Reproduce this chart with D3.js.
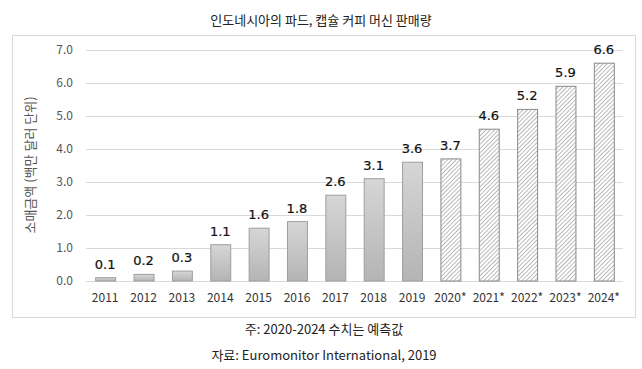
<html>
<head>
<script src="https://cdn.jsdelivr.net/npm/d3@7"></script>
<style>
    body { margin: 0; background: white; }
    text { font-family: "Noto Sans CJK KR", "Noto Sans", sans-serif; }
</style>
</head>
<body>
<svg id="container" width="642" height="369"></svg>
<script>
    let years = ["2011", "2012", "2013", "2014", "2015", "2016", "2017", "2018", "2019",
        "2020*", "2021*", "2022*", "2023*", "2024*"]
    let sales = [0.1, 0.2, 0.3, 1.1, 1.6, 1.8, 2.6, 3.1, 3.6, 3.7, 4.6, 5.2, 5.9, 6.6]
    let forecast = [false, false, false, false, false, false, false, false, false, true, true, true, true, true]
    let yTicks = [0, 1, 2, 3, 4, 5, 6, 7]

    let data = years.map((y, i) => ({ year: y, value: sales[i], forecast: forecast[i] }))

    let svg = d3.select("#container")
    let defs = svg.append("defs")

    let grad = defs.append("linearGradient").attr("id", "barGrad")
        .attr("x1", 0).attr("y1", 0).attr("x2", 0).attr("y2", 1)
    grad.append("stop").attr("offset", "0%").attr("stop-color", "#d6d6d6")
    grad.append("stop").attr("offset", "100%").attr("stop-color", "#b4b4b4")

    let hatch = defs.append("pattern").attr("id", "hatch")
        .attr("patternUnits", "userSpaceOnUse")
        .attr("width", 3).attr("height", 3)
        .attr("patternTransform", "rotate(45)")
    hatch.append("rect").attr("width", 3).attr("height", 3).attr("fill", "white")
    hatch.append("line").attr("x1", 0).attr("y1", 0).attr("x2", 0).attr("y2", 3)
        .attr("stroke", "#8a8a8a").attr("stroke-width", 1.2)

    // outer frame
    svg.append("rect").attr("x", 12.5).attr("y", 35.5).attr("width", 623).attr("height", 282)
        .attr("fill", "none").attr("stroke", "#d9d9d9")

    svg.append("text").attr("x", 321).attr("y", 25).attr("text-anchor", "middle")
        .attr("font-size", 13).attr("fill", "#222")
        .text("인도네시아의  파드, 캡슐 커피 머신 판매량")

    let x = d3.scaleBand().domain(years).range([86, 623]).paddingInner(0.48).paddingOuter(0.24)
    let y = d3.scaleLinear().domain([0, 7]).range([281, 50])

    let grid = svg.append("g")
    grid.selectAll("line").data(yTicks).enter().append("line")
        .attr("x1", 86).attr("x2", 623)
        .attr("y1", d => Math.round(y(d)) + 0.5).attr("y2", d => Math.round(y(d)) + 0.5)
        .attr("stroke", "#d9d9d9")

    let yAxis = svg.append("g").attr("transform", "translate(76,0)")
        .call(d3.axisLeft(y).tickValues(yTicks).tickFormat(d3.format(".1f")).tickSize(0))
    yAxis.select(".domain").remove()
    yAxis.selectAll("text").attr("font-size", 12).attr("fill", "#555")
        .attr("font-family", "'Noto Sans CJK KR', sans-serif")

    svg.append("text").attr("transform", "translate(35,165) rotate(-90)")
        .attr("text-anchor", "middle").attr("font-size", 13).attr("fill", "#555")
        .text("소매금액 (백만 달러 단위)")

    svg.selectAll(".bar").data(data).enter().append("rect")
        .attr("class", "bar")
        .attr("x", d => x(d.year) + 0.5)
        .attr("y", d => y(d.value))
        .attr("width", x.bandwidth())
        .attr("height", d => y(0) - y(d.value))
        .attr("fill", d => d.forecast ? "url(#hatch)" : "url(#barGrad)")
        .attr("stroke", d => d.forecast ? "#8a8a8a" : "#9e9e9e")
        .attr("stroke-width", 1)

    svg.selectAll(".val").data(data).enter().append("text")
        .attr("class", "val")
        .attr("x", d => x(d.year) + x.bandwidth() / 2)
        .attr("y", d => y(d.value) - 9)
        .attr("text-anchor", "middle").attr("font-size", 13)
        .attr("fill", "#111").attr("stroke", "#111").attr("stroke-width", 0.2)
        .style("font-family", "'DejaVu Sans', sans-serif")
        .text(d => d3.format(".1f")(d.value))

    let xAxis = svg.append("g").attr("transform", "translate(0,281)")
        .call(d3.axisBottom(x).tickSize(0).tickPadding(12))
    xAxis.select(".domain").remove()
    xAxis.selectAll("text").attr("font-size", 12).attr("fill", "#333")
        .attr("font-family", "'Noto Sans CJK KR', sans-serif")

    svg.append("text").attr("x", 324).attr("y", 334).attr("text-anchor", "middle")
        .attr("font-size", 13).attr("fill", "#222")
        .text("주: 2020-2024 수치는 예측값")
    svg.append("text").attr("x", 324).attr("y", 360).attr("text-anchor", "middle")
        .attr("font-size", 13).attr("fill", "#222")
        .text("자료: Euromonitor International, 2019")
</script>
</body>
</html>
